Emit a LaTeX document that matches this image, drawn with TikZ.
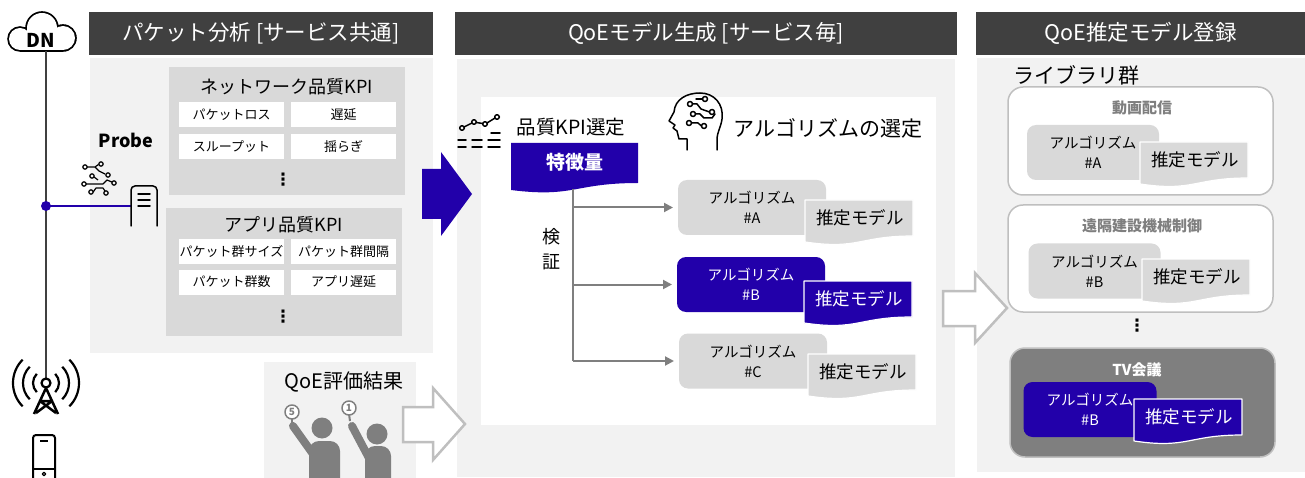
\documentclass[tikz,border=0pt]{standalone}
\usepackage{fontspec}
\setmainfont{Noto Sans CJK JP}
\newfontfamily\dotsfont{DejaVu Sans}
\usetikzlibrary{arrows.meta}

\definecolor{hdrgray}{HTML}{404040}
\definecolor{panelgray}{HTML}{F2F2F2}
\definecolor{boxgray}{HTML}{D9D9D9}
\definecolor{midgray}{HTML}{7F7F7F}
\definecolor{lightline}{HTML}{BFBFBF}
\definecolor{qoeblue}{HTML}{2200AA}

% 推定モデル：底边为波形的文档形状（#1 名称, #2/#3 左上角, #4 形状样式, #5 文字样式）
\newcommand{\estmodel}[5]{%
  \draw[#4] (#2,#3) -- (#2+108,#3) -- (#2+108,#3+36)
    .. controls (#2+54,#3+36) and (#2+54,#3+50) .. (#2,#3+42) -- cycle;
  \node[font=\fontsize{17.5}{17.5}\selectfont, #5] (#1) at (#2+55,#3+18) {推定モデル};
}

\begin{document}
\begin{tikzpicture}[x=1pt, y=-1pt, >={Triangle[length=9pt, width=9pt]}, line join=round,
  every node/.style={inner sep=0pt, outer sep=0pt},
  hdr/.style={fill=hdrgray, text=white, minimum height=43pt, font=\fontsize{21.5}{21.5}\selectfont},
  kpititle/.style={font=\fontsize{18}{18}\selectfont},
  cell/.style={fill=white, minimum width=105pt, minimum height=25pt, font=\fontsize{13}{13}\selectfont},
  vdots/.style={font=\dotsfont\bfseries\fontsize{17}{17}\selectfont},
  algbox/.style={fill=boxgray, rounded corners=9pt, minimum width=148pt, minimum height=55pt,
    align=center, font=\fontsize{14.5}{20}\selectfont},
  algsel/.style={algbox, fill=qoeblue, text=white},
  doc/.style={fill=boxgray, draw=white, line width=1.2pt},
  docsel/.style={fill=qoeblue, draw=white, line width=1.2pt},
  branch/.style={draw=midgray, line width=2pt},
  grpbox/.style={fill=white, draw=lightline, line width=1.5pt, rounded corners=15pt, minimum width=265pt},
  grptitle/.style={text=midgray, font=\bfseries\fontsize{15}{15}\selectfont},
  outarrow/.style={fill=white, draw=lightline, line width=2.5pt, line join=miter},
  icon/.style={line width=1.5pt, line cap=round}]

  \useasboundingbox (0,0) rectangle (1305,478);

  % ==================== 1. 底层：面板与标题栏 ====================
  \fill[panelgray] (90,58) rectangle (433,353);
  \fill[panelgray] (264,362) rectangle (416,478);
  \fill[panelgray] (457,59) rectangle (955,477);
  \fill[white] (481,97) rectangle (936,425);
  \fill[panelgray] (977,58) rectangle (1305,472);

  \node[hdr, minimum width=344pt] (hdrL) at (261,33.5) {パケット分析 [サービス共通]};
  \node[hdr, minimum width=502pt] (hdrM) at (706,33.5) {QoEモデル生成 [サービス毎]};
  \node[hdr, minimum width=329pt] (hdrR) at (1140.5,33.5) {QoE推定モデル登録};

  % ==================== 2. 左侧：网络与 Probe ====================
  % 云（DN）：先黑后白叠圆得到轮廓
  \fill[black] (20,39) circle (12.8pt) (42,28) circle (16.8pt) (63,38) circle (13.8pt) (20,38) rectangle (63,51.8);
  \fill[white] (20,39) circle (11pt) (42,28) circle (15pt) (63,38) circle (12pt) (20,38) rectangle (63,50);
  \node[font=\bfseries\fontsize{19}{19}\selectfont] (dn) at (41,40) {DN};

  \coordinate (cloudB) at (46,51);
  \coordinate (antTop) at (46,378);
  \coordinate (tap) at (46,206);
  \coordinate (srvL) at (131,206);
  \draw[hdrgray, line width=2.5pt] (cloudB) -- (antTop);
  \draw[qoeblue, line width=1.5pt] (tap) -- (srvL);
  \fill[qoeblue] (tap) circle (5pt);

  % 基站
  \draw[line width=2.2pt] (46,383) circle (4.5pt);
  \foreach \r in {13,23,33} {
    \draw[line width=2.2pt] (46,383) ++(135:\r pt) arc[start angle=135, end angle=225, radius=\r pt];
    \draw[line width=2.2pt] (46,383) ++(45:\r pt) arc[start angle=45, end angle=-45, radius=\r pt];
  }
  \draw[line width=2.5pt] (46,388) -- (34,414) (46,388) -- (58,414)
    (40,401) -- (52,401) (40,401) -- (56,413) (52,401) -- (36,413);

  % 终端
  \draw[line width=2pt, rounded corners=3pt] (33,435) rectangle (55,484);
  \draw[line width=1.8pt] (40,441) -- (48,441) (33,469) -- (55,469);
  \draw[line width=1.2pt] (44,474) circle (1.8pt);

  % Probe 与服务器图标
  \node[font=\bfseries\fontsize{18}{18}\selectfont] (probe) at (126,140) {Probe};
  \draw[icon] (131,226) -- (131,190) arc[start angle=180, end angle=90, radius=4pt] -- (153,186)
    arc[start angle=90, end angle=0, radius=4pt] -- (157,226);
  \draw[icon] (138,194) -- (150,194) (138,200) -- (150,200) (138,206) -- (150,206);

  % 电路图标
  \begin{scope}[line width=1.2pt]
    \draw (85,167) circle (2.2pt) (101,164) circle (2.2pt) (108,175) circle (2.2pt) (92,176) circle (2.2pt)
      (84,184) circle (2.2pt) (114,183) circle (2.2pt) (91,192) circle (2.2pt) (106,193) circle (2.2pt);
    \draw (87.2,167) -- (95,167) -- (98.5,164.5);
    \draw (95,167) -- (99,171) -- (105,174);
    \draw (86.2,184) -- (103,184) -- (107,180) -- (111.8,182);
    \draw (93.2,192) -- (96,188) -- (103,188) -- (105,191);
    \draw (94,177) -- (98,180);
  \end{scope}

  % ==================== 3. 左侧：KPI 列表 ====================
  \fill[boxgray] (169,67) rectangle (405,195);
  \node[kpititle] (nwT) at (287,87) {ネットワーク品質KPI};
  \node[cell] (nw11) at (231.5,114.5) {パケットロス};
  \node[cell] (nw12) at (343.5,114.5) {遅延};
  \node[cell] (nw21) at (231.5,146.5) {スループット};
  \node[cell] (nw22) at (343.5,146.5) {揺らぎ};
  \node[vdots] (nwD) at (283,180) {⋮};

  \fill[boxgray] (166,208) rectangle (402,336);
  \node[kpititle] (apT) at (284,225) {アプリ品質KPI};
  \node[cell] (ap11) at (231.5,251.5) {パケット群サイズ};
  \node[cell] (ap12) at (343.5,251.5) {パケット群間隔};
  \node[cell] (ap21) at (231.5,282) {パケット群数};
  \node[cell] (ap22) at (343.5,282) {アプリ遅延};
  \node[vdots] (apD) at (283,317) {⋮};

  % ==================== 4. QoE 评价结果 ====================
  \node[font=\fontsize{20}{20}\selectfont] (qoeT) at (344,382) {QoE評価結果};
  \fill[midgray] (322,428) circle (10.5pt);
  \fill[midgray] (309,478) -- (309,451) arc[start angle=180, end angle=90, radius=10pt] -- (330,441)
    arc[start angle=90, end angle=0, radius=10pt] -- (340,478) -- cycle;
  \draw[midgray, line width=8pt, line cap=round] (313,454) -- (293,426);
  \draw[midgray, line width=2pt] (292,425) -- (292,418);
  \draw[midgray, fill=white, line width=1.5pt] (292,412) circle (7pt);
  \node[text=midgray, font=\bfseries\fontsize{10}{10}\selectfont] (score5) at (292,412) {5};

  \fill[midgray] (377,434) circle (10.5pt);
  \fill[midgray] (365,478) -- (365,456) arc[start angle=180, end angle=90, radius=10pt] -- (381,446)
    arc[start angle=90, end angle=0, radius=10pt] -- (391,478) -- cycle;
  \draw[midgray, line width=8pt, line cap=round] (369,458) -- (352,426);
  \draw[midgray, line width=2pt] (350,421) -- (349,414);
  \draw[midgray, fill=white, line width=1.5pt] (349,408) circle (7pt);
  \node[text=midgray, font=\bfseries\fontsize{10}{10}\selectfont] (score1) at (349,408) {1};

  % ==================== 5. 流程箭头 ====================
  \fill[qoeblue] (422,169) -- (441,169) -- (441,152) -- (472,194) -- (441,236) -- (441,219) -- (422,219) -- cycle;
  \draw[outarrow] (403,407) -- (433,407) -- (433,388) -- (465,424) -- (433,460) -- (433,442) -- (403,442) -- cycle;
  \draw[outarrow] (943,291) -- (975,291) -- (975,273) -- (1007,308) -- (975,343) -- (975,326) -- (943,326) -- cycle;

  % ==================== 6. 中间：模型生成 ====================
  % 折线图标
  \begin{scope}[icon]
    \draw (462,128) circle (2.3pt) (474,122) circle (2.3pt) (485,124) circle (2.3pt) (497,117) circle (2.3pt);
    \draw (464,127) -- (472,123) (476.3,122.5) -- (482.7,123.5) (487,123) -- (495,118);
    \draw (491,133) -- (500,133);
    \draw (458,140) -- (466,140) (472,140) -- (482,140) (488,140) -- (500,140);
    \draw (458,147) -- (466,147) (472,147) -- (482,147) (488,147) -- (500,147);
  \end{scope}
  \node[font=\fontsize{19.5}{19.5}\selectfont] (kpiSel) at (571,127) {品質KPI選定};

  % 头像图标
  \begin{scope}[icon]
    \draw (687,150) -- (687,139) -- (679,139) -- (677,131) -- (673,128) -- (675,125) -- (669,121)
      -- (674,112) .. controls (675,99) and (687,93) .. (700,93)
      .. controls (714,93) and (724,104) .. (722,119) .. controls (721,127) and (717,132) .. (717,140) -- (717,150);
    \draw (690,104) circle (2.5pt) (705,99) circle (2.5pt) (693,114) circle (2.5pt)
      (712,112) circle (2.5pt) (689,123) circle (2.5pt) (704,126) circle (2.5pt);
    \draw (692.5,104) -- (697,104) -- (701,109) -- (709.5,112);
    \draw (695.5,114) -- (700,114) -- (704,118) -- (712,118) -- (715,114);
    \draw (691.5,123) -- (698,123) -- (701.5,126);
    \draw (702.5,99) -- (696,99);
  \end{scope}
  \node[font=\fontsize{21}{21}\selectfont] (algSel) at (828,128) {アルゴリズムの選定};

  % 特徴量
  \fill[qoeblue] (511,143) -- (638,143) -- (638,183) .. controls (574,183) and (574,198) .. (511,190) -- cycle;
  \node[text=white, font=\bfseries\fontsize{19}{19}\selectfont] (feat) at (575,162) {特徴量};

  % 候选算法
  \node[algbox] (algA) at (752,207.5) {アルゴリズム\\\#A};
  \node[algsel] (algB) at (751,284.5) {アルゴリズム\\\#B};
  \node[algbox] (algC) at (753,361) {アルゴリズム\\\#C};
  \estmodel{mdlA}{805}{200}{doc}{}
  \estmodel{mdlB}{804}{281}{docsel}{text=white}
  \estmodel{mdlC}{808}{354}{doc}{}

  % 检证分支
  \coordinate (vTop) at (573,189);
  \draw[branch] (vTop) -- (vTop |- algC.west);
  \foreach \n in {A,B,C}
    \draw[branch, ->] (vTop |- alg\n.west) -- ([xshift=-5pt]alg\n.west);
  \node[font=\fontsize{18}{18}\selectfont] (ken) at (551,237) {検};
  \node[font=\fontsize{18}{18}\selectfont] (sho) at (551,262) {証};

  % ==================== 7. 右侧：模型库 ====================
  \node[font=\fontsize{21}{21}\selectfont] (libT) at (1076,75) {ライブラリ群};

  \node[grpbox, minimum height=108pt] (grp1) at (1140.5,141) {};
  \node[grptitle] (grp1T) at (1142,108) {動画配信};
  \node[algbox, minimum width=132pt] (algR1) at (1093,152.5) {アルゴリズム\\\#A};
  \estmodel{mdlR1}{1140}{142}{doc}{}

  \node[grpbox, minimum height=107pt] (grp2) at (1140.5,258.5) {};
  \node[grptitle] (grp2T) at (1142,226) {遠隔建設機械制御};
  \node[algbox, minimum width=132pt] (algR2) at (1094.5,271) {アルゴリズム\\\#B};
  \estmodel{mdlR2}{1142}{259}{doc}{}

  \node[vdots] (libD) at (1137,326) {⋮};

  \node[grpbox, fill=midgray, minimum height=109pt] (grp3) at (1142.5,402.5) {};
  \node[grptitle, text=white] (grp3T) at (1137,370) {TV会議};
  \node[algsel, minimum width=133pt] (algR3) at (1090,409.5) {アルゴリズム\\\#B};
  \estmodel{mdlR3}{1134}{399}{docsel}{text=white}

\end{tikzpicture}
\end{document}
